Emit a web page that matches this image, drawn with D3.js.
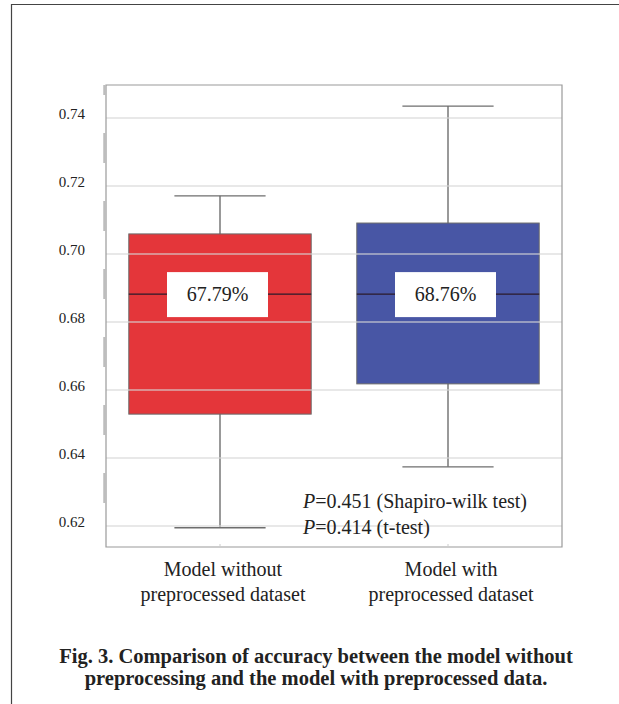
<!DOCTYPE html>
<html>
<head>
<meta charset="utf-8">
<script src="https://cdn.jsdelivr.net/npm/d3@7"></script>
<style>
  body { margin: 0; background: #fff; }
  svg { display: block; font-family: "Liberation Serif", "Times New Roman", serif; }
</style>
</head>
<body>
<svg id="chart"></svg>
<script>
// data
const groups = ['Model without preprocessed dataset', 'Model with preprocessed dataset'];
const groupLines = [['Model without', 'preprocessed dataset'], ['Model with', 'preprocessed dataset']];
const whiskerLow = [0.6195, 0.6374];
const q1 = [0.6529, 0.6618];
const median = [0.6882, 0.6882];
const q3 = [0.7059, 0.7091];
const whiskerHigh = [0.7171, 0.7435];
const meanLabels = ['67.79%', '68.76%'];
const boxColors = ['#e4363a', '#4856a5'];
const yTicks = [0.62, 0.64, 0.66, 0.68, 0.70, 0.72, 0.74];
const pNotes = [['P', '=0.451 (Shapiro-wilk test)'], ['P', '=0.414 (t-test)']];
const caption = ['Fig. 3. Comparison of accuracy between the model without',
  'preprocessing and the model with preprocessed data.'];

const W = 619, H = 704;
const margin = {top: 85, left: 106, right: 57, bottom: 157};
const width = W - margin.left - margin.right;
const height = H - margin.top - margin.bottom;

const svg = d3.select('#chart')
.attr('width', W)
.attr('height', H);

// outer frame of the figure
svg.append('path')
.attr('d', `M11.5,${H} V4.5 H${W}`)
.attr('fill', 'none')
.attr('stroke', '#444')
.attr('stroke-width', 1.2);

const g = svg.append('g')
.attr('transform', `translate(${margin.left}, ${margin.top})`);

const y = d3.scaleLinear()
.domain([0.61382, 0.7497])
.range([height, 0]);

const x = d3.scaleBand()
.domain(groups)
.range([0, width])
.paddingInner(0.2)
.paddingOuter(0.1);

const rows = groups.map((name, i) => ({
  name: name, i: i,
  lo: whiskerLow[i], q1: q1[i], med: median[i], q3: q3[i], hi: whiskerHigh[i]
}));

// whiskers
const cx = d => x(d.name) + x.bandwidth() / 2;
const capW = x.bandwidth() / 2;

g.selectAll('.whisker')
.data(rows)
.enter()
.append('line')
.attr('x1', cx).attr('x2', cx)
.attr('y1', d => y(d.lo)).attr('y2', d => y(d.hi))
.attr('stroke', '#6e6e6e')
.attr('stroke-width', 1.4);

['lo', 'hi'].forEach(k => {
  g.selectAll('.cap-' + k)
  .data(rows)
  .enter()
  .append('line')
  .attr('x1', d => cx(d) - capW / 2).attr('x2', d => cx(d) + capW / 2)
  .attr('y1', d => y(d[k])).attr('y2', d => y(d[k]))
  .attr('stroke', '#6e6e6e')
  .attr('stroke-width', 1.4);
});

// boxes
g.selectAll('.box')
.data(rows)
.enter()
.append('rect')
.attr('x', d => x(d.name))
.attr('y', d => y(d.q3))
.attr('width', x.bandwidth())
.attr('height', d => y(d.q1) - y(d.q3))
.attr('fill', d => boxColors[d.i])
.attr('stroke', '#6a6a6a')
.attr('stroke-width', 1);

// grid lines, drawn over the boxes but faint
g.selectAll('.grid')
.data(yTicks)
.enter()
.append('line')
.attr('x1', 0).attr('x2', width)
.attr('y1', d => y(d)).attr('y2', d => y(d))
.attr('stroke', 'rgba(215,215,215,0.75)')
.attr('stroke-width', 1.3);

// medians
g.selectAll('.median')
.data(rows)
.enter()
.append('line')
.attr('x1', d => x(d.name)).attr('x2', d => x(d.name) + x.bandwidth())
.attr('y1', d => y(d.med)).attr('y2', d => y(d.med))
.attr('stroke', '#2a1a2a')
.attr('stroke-width', 1.4);

// white label boxes with the mean accuracy
g.selectAll('.labelbox')
.data(rows)
.enter()
.append('rect')
.attr('x', d => cx(d) - 53)
.attr('y', d => y(d.med) - 22)
.attr('width', 101)
.attr('height', 45)
.attr('fill', '#fff');

g.selectAll('.labeltext')
.data(rows)
.enter()
.append('text')
.attr('x', d => cx(d) - 2.5)
.attr('y', d => y(d.med) + 7)
.attr('text-anchor', 'middle')
.style('font-size', '20px')
.style('fill', '#222')
.text(d => meanLabels[d.i]);

// plot frame
g.append('path')
.attr('d', `M0,0 H${width} V${height} H0 Z`)
.attr('fill', 'none')
.attr('stroke', '#9a9a9a')
.attr('stroke-width', 1.2);

// the odd broken grey stroke along the left spine
g.append('line')
.attr('x1', -1.5).attr('x2', -1.5)
.attr('y1', 0).attr('y2', height - 35)
.attr('stroke', '#bdbdbd')
.attr('stroke-width', 2.5)
.attr('stroke-dasharray', '30 38')
.attr('stroke-dashoffset', 20);

// y tick labels
g.selectAll('.ytick')
.data(yTicks)
.enter()
.append('text')
.attr('x', -21)
.attr('y', d => y(d) + 1)
.attr('text-anchor', 'end')
.style('font-size', '15px')
.style('fill', '#222')
.text(d => d.toFixed(2));

// small x tick marks
g.selectAll('.xtick')
.data(rows)
.enter()
.append('line')
.attr('x1', cx).attr('x2', cx)
.attr('y1', height).attr('y2', height - 3)
.attr('stroke', '#ccc');

// category labels
rows.forEach(d => {
  groupLines[d.i].forEach((line, j) => {
    g.append('text')
    .attr('x', cx(d) + 3)
    .attr('y', height + 29 + j * 25)
    .attr('text-anchor', 'middle')
    .style('font-size', '20px')
    .style('fill', '#222')
    .text(line);
  });
});

// p-value notes
pNotes.forEach((p, j) => {
  const t = g.append('text')
  .attr('x', 303 - margin.left)
  .attr('y', 508 - margin.top + j * 26)
  .style('font-size', '20px')
  .style('fill', '#222');
  t.append('tspan').style('font-style', 'italic').text(p[0]);
  t.append('tspan').text(p[1]);
});

// caption
caption.forEach((line, j) => {
  svg.append('text')
  .attr('x', 316)
  .attr('y', 663 + j * 22)
  .attr('text-anchor', 'middle')
  .style('font-size', '20.5px')
  .style('font-weight', 'bold')
  .style('fill', '#222')
  .text(line);
});
</script>
</body>
</html>
